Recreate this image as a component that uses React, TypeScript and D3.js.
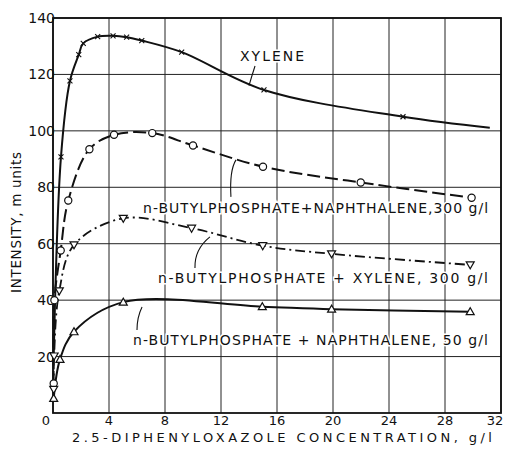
import React from "react";
import * as d3 from "d3";

// ---- data ----
const xTicks = [0, 4, 8, 12, 16, 20, 24, 28, 32];
const yTicks = [20, 40, 60, 80, 100, 120, 140];

const xyleneX = [0.05, 0.57, 1.21, 1.84, 2.16, 3.19, 4.29, 5.26, 6.34, 9.19, 15.07, 25.0, 31.2];
const xyleneY = [20, 90.8, 117.7, 127, 131, 133.4, 133.7, 133.2, 132, 127.9, 114.5, 105, 101.1];
const xyleneMarked = [1, 2, 3, 4, 5, 6, 7, 8, 9, 10, 11];

const naph300X = [0.05, 0.1, 0.55, 1.09, 2.6, 4.36, 7.09, 10.0, 15.0, 21.98, 29.9];
const naph300Y = [10.5, 40, 57.6, 75.3, 93.5, 98.6, 99.2, 94.8, 87.3, 81.7, 76.3];
const naph300Marked = [0, 1, 2, 3, 4, 5, 6, 7, 8, 9, 10];

const xyl300X = [0.05, 0.08, 0.45, 1.5, 5.02, 9.9, 14.98, 19.9, 29.8];
const xyl300Y = [8.4, 20.2, 43.3, 59.6, 69, 65.5, 59.3, 56.4, 52.5];
const xyl300Marked = [0, 1, 2, 3, 4, 5, 6, 7, 8];

const naph50X = [0.05, 0.5, 1.5, 5.02, 14.95, 19.9, 29.8];
const naph50Y = [5.2, 19, 28.8, 39.3, 37.7, 36.8, 35.9];
const naph50Marked = [0, 1, 2, 3, 4, 5, 6];

const labelXylene = "XYLENE";
const labelNaph300 = "n-BUTYLPHOSPHATE+NAPHTHALENE,300 g/l";
const labelXyl300 = "n-BUTYLPHOSPHATE + XYLENE, 300 g/l";
const labelNaph50 = "n-BUTYLPHOSPHATE + NAPHTHALENE, 50 g/l";
const xTitle = "2.5-DIPHENYLOXAZOLE CONCENTRATION, g/l";
const yTitle = "INTENSITY, m units";

const W = 509;
const H = 454;
const FONT = "'DejaVu Sans', 'Liberation Sans', sans-serif";

export default function App() {
  const x = d3.scaleLinear().domain([0, 32]).range([53, 501]);
  const y = d3.scaleLinear().domain([0, 140]).range([413, 18]);

  const line = d3
    .line<[number, number]>()
    .x((d) => x(d[0]))
    .y((d) => y(d[1]))
    .curve(d3.curveCatmullRom.alpha(0.5));

  const pts = (xs: number[], ys: number[]) => xs.map((v, i) => [v, ys[i]] as [number, number]);

  const xyl = pts(xyleneX, xyleneY);
  const n300 = pts(naph300X, naph300Y);
  const x300 = pts(xyl300X, xyl300Y);
  const n50 = pts(naph50X, naph50Y);

  const cross = (px: number, py: number, k: string) => (
    <path key={k} d={`M${px - 2.5},${py - 2.5}L${px + 2.5},${py + 2.5}M${px - 2.5},${py + 2.5}L${px + 2.5},${py - 2.5}`} stroke="#111" strokeWidth={1.1} />
  );
  const circ = (px: number, py: number, k: string) => (
    <circle key={k} cx={px} cy={py} r={3.6} fill="#fff" stroke="#111" strokeWidth={1.2} />
  );
  const triDown = (px: number, py: number, k: string) => (
    <path key={k} d={`M${px - 4},${py - 3}L${px + 4},${py - 3}L${px},${py + 4}Z`} fill="#fff" stroke="#111" strokeWidth={1.2} />
  );
  const triUp = (px: number, py: number, k: string) => (
    <path key={k} d={`M${px - 4},${py + 3}L${px + 4},${py + 3}L${px},${py - 4}Z`} fill="#fff" stroke="#111" strokeWidth={1.2} />
  );

  const textStyle: React.CSSProperties = { fontFamily: FONT, fill: "#111" };

  const leader = (x0: number, y0: number, cx: number, cy: number, x1: number, y1: number) =>
    `M${x(x0)},${y(y0)}Q${x(cx)},${y(cy)} ${x(x1)},${y(y1)}`;

  return (
    <svg width={W} height={H} style={{ position: "absolute", left: 0, top: 0, background: "#fff" }}>
      <rect x={0} y={0} width={W} height={H} fill="#fff" />
      {/* grid */}
      {xTicks.map((t) => (
        <line key={"gx" + t} x1={x(t)} x2={x(t)} y1={y(0)} y2={y(140)} stroke="#222" strokeWidth={1} />
      ))}
      {yTicks.map((t) => (
        <line key={"gy" + t} x1={x(0)} x2={x(32)} y1={y(t)} y2={y(t)} stroke="#222" strokeWidth={1} />
      ))}
      <rect x={x(0)} y={y(140)} width={x(32) - x(0)} height={y(0) - y(140)} fill="none" stroke="#111" strokeWidth={1.8} />

      {/* tick labels */}
      {yTicks.map((t) => (
        <text key={"ty" + t} x={x(0) + 2} y={y(t) + 5} textAnchor="end" fontSize={14} style={textStyle}>
          {t}
        </text>
      ))}
      {xTicks.map((t, i) => (
        <text
          key={"tx" + t}
          x={x(t) + (i === 0 ? -7 : i === xTicks.length - 1 ? -6 : 0)}
          y={425}
          textAnchor="middle"
          fontSize={13}
          style={textStyle}
        >
          {t}
        </text>
      ))}

      {/* axis titles */}
      <text x={72} y={442} fontSize={13} textLength={420} lengthAdjust="spacing" style={textStyle}>
        {xTitle}
      </text>
      <text
        transform={`translate(21,293) rotate(-90)`}
        fontSize={13.5}
        textLength={141}
        lengthAdjust="spacing"
        style={textStyle}
      >
        {yTitle}
      </text>

      {/* curves */}
      <path d={line(xyl) || ""} fill="none" stroke="#111" strokeWidth={2} />
      <path d={line(n300) || ""} fill="none" stroke="#111" strokeWidth={2} strokeDasharray="13,5" />
      <path d={line(x300) || ""} fill="none" stroke="#111" strokeWidth={1.8} strokeDasharray="10,4,2,4" />
      <path d={line(n50) || ""} fill="none" stroke="#111" strokeWidth={2} />

      {/* markers */}
      {xyleneMarked.map((i) => cross(x(xyleneX[i]), y(xyleneY[i]), "mx" + i))}
      {naph300Marked.map((i) => circ(x(naph300X[i]), y(naph300Y[i]), "mc" + i))}
      {xyl300Marked.map((i) => triDown(x(xyl300X[i]), y(xyl300Y[i]), "md" + i))}
      {naph50Marked.map((i) => triUp(x(naph50X[i]), y(naph50Y[i]), "mu" + i))}

      {/* labels and leaders */}
      <g stroke="#111" strokeWidth={1.1} fill="none">
        <path d={leader(14.43, 123, 14.2, 119.5, 14.0, 116)} />
        <path d={leader(13.07, 89.7, 12.6, 86, 12.71, 76.6)} />
        <path d={leader(11.21, 62.4, 10.1, 58, 10.14, 51.4)} />
        <path d={leader(6.36, 37.6, 6.0, 34, 6.0, 29.4)} />
      </g>
      <g style={{ paintOrder: "stroke" } as React.CSSProperties} stroke="#fff" strokeWidth={3}>
        <text x={x(13.36)} y={y(124.8)} fontSize={14} textLength={64} lengthAdjust="spacing" style={textStyle}>
          {labelXylene}
        </text>
        <text x={x(6.43)} y={y(70.9)} fontSize={14} textLength={345} lengthAdjust="spacing" style={textStyle}>
          {labelNaph300}
        </text>
        <text x={x(7.5)} y={y(46.1)} fontSize={14} textLength={330} lengthAdjust="spacing" style={textStyle}>
          {labelXyl300}
        </text>
        <text x={x(5.71)} y={y(24.1)} fontSize={14} textLength={355} lengthAdjust="spacing" style={textStyle}>
          {labelNaph50}
        </text>
      </g>
    </svg>
  );
}
